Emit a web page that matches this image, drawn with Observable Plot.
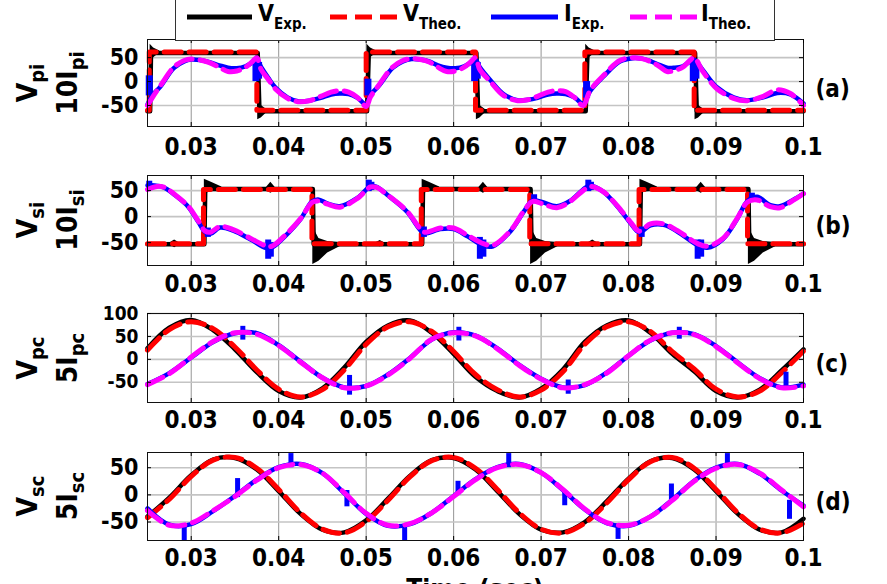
<!DOCTYPE html>
<html><head><meta charset="utf-8">
<script src="https://cdn.jsdelivr.net/npm/d3@7"></script>
<script src="https://cdn.jsdelivr.net/npm/@observablehq/plot@0.6"></script>
<style>
body{margin:0;background:#fff;}
#root{position:relative;width:887px;height:584px;overflow:hidden;background:#fff;
 font-family:"DejaVu Sans Condensed","DejaVu Sans",sans-serif;font-weight:bold;font-stretch:condensed;}
.ylab{position:absolute;transform:translate(-50%,-50%) rotate(-90deg);white-space:nowrap;text-align:center;
 font-size:28px;line-height:38px;color:#000;}
.ylab .sub{font-size:20px;position:relative;top:0.35em;}
.xlab{position:absolute;left:475px;top:574px;transform:translateX(-50%);font-size:26px;line-height:30px;white-space:nowrap;}
</style></head><body><div id="root"></div>
<script>
// ---------- shared axis data ----------
const xTicks = [0.03,0.04,0.05,0.06,0.07,0.08,0.09,0.1];
const xTickLabels = ["0.03","0.04","0.05","0.06","0.07","0.08","0.09","0.1"];
const yTicks3 = [-50,0,50];
const yTickLabels3 = ["-50","0","50"];
const yTicksC = [-50,0,50,100];
const yTickLabelsC = ["-50","0","50","100"];
const panelLabels = ["(a)","(b)","(c)","(d)"];
const legendNames = [["V","Exp."],["V","Theo."],["I","Exp."],["I","Theo."]];
const yNames = [["V","pi","10I","pi"],["V","si","10I","si"],["V","pc","5I","pc"],["V","sc","5I","sc"]];

// ---------- panel (a) ----------
const aVTheoT = [0.025,0.0252,0.0252,0.0375,0.0375,0.05,0.05,0.0625,0.0625,0.075,0.075,0.0875,0.0875,0.1];
const aVTheoV = [-60,-60,62,62,-60,-60,62,62,-60,-60,62,62,-60,-60];
const aVExpT = [0.025,0.0253,0.0254,0.0376,0.0378,0.0501,0.0503,0.0626,0.0628,0.0751,0.0753,0.0876,0.0878,0.1];
const aVExpV = [-62,-62,60,60,-62,-62,60,60,-62,-62,60,60,-62,-62];
const aRingId = [1,1,1,2,2,2,3,3,3,4,4,4,5,5,5,6,6,6];
const aRingT  = [0.0253,0.0257,0.0264, 0.0376,0.038,0.0386, 0.0501,0.0505,0.0512, 0.0626,0.063,0.0636, 0.0751,0.0755,0.0762, 0.0876,0.088,0.0886];
const aRingLo = [20,50,60, -80,-76,-66, 20,50,60, -80,-76,-66, 20,50,60, -80,-76,-66];
const aRingHi = [78,70,64, -20,-50,-58, 78,70,64, -20,-50,-58, 78,70,64, -20,-50,-58];
const aIT = [0.025,0.0255,0.0265,0.028,0.0292,0.03,0.031,0.032,0.0332,0.0342,0.0352,0.0362,0.037,0.0375,0.038,0.0388,0.0396,0.041,0.0422,0.0435,0.0448,0.046,0.047,0.048,0.049,0.05,
 0.0505,0.0515,0.053,0.0542,0.0552,0.0562,0.0572,0.0582,0.0592,0.0602,0.0612,0.062,0.0625,0.063,0.0642,0.0657,0.0673,0.0685,0.0696,0.0708,0.0718,0.0728,0.0738,0.0748,
 0.0756,0.0771,0.079,0.0805,0.0815,0.0825,0.0835,0.0844,0.0852,0.0862,0.087,0.0875,0.0885,0.0901,0.092,0.0935,0.0954,0.097,0.0985,0.1];
const aITheo = [-50,-35,-8,30,44,47,45,40,30,21,22,30,42,50,25,5,-15,-35,-42,-40,-31,-22,-19,-22,-33,-52,
 -32,-6,30,44,48,46,41,30,21,22,30,42,50,25,0,-29,-40,-38,-31,-22,-19,-21,-33,-50,
 -19,12,44,50,48,42,32,21,23,30,44,50,21,-15,-35,-40,-31,-17,-25,-50];
const aIExp = [-48,-30,-10,28,42,46,45,41,34,29,28,32,40,46,30,8,-12,-33,-41,-40,-34,-27,-25,-26,-34,-48,
 -28,-8,28,42,47,46,42,34,29,28,32,40,46,30,3,-26,-39,-38,-34,-27,-25,-26,-33,-46,
 -20,10,42,49,48,43,35,29,29,32,42,46,24,-12,-33,-39,-33,-24,-27,-46];
const aSpikeT  = [0.0252,0.0374,0.0377,0.0502,0.0624,0.0627,0.0752,0.0874,0.0877];
const aSpikeLo = [-30,0,5,-30,0,5,-35,0,5];
const aSpikeHi = [12,45,40,5,45,40,0,45,40];

// ---------- panel (b) ----------
const bVTheoT = [0.025,0.0314,0.0314,0.0438,0.0438,0.0563,0.0563,0.0687,0.0687,0.0812,0.0812,0.0936,0.0936,0.1];
const bVTheoV = [-52,-52,52,52,-52,-52,52,52,-52,-52,52,52,-52,-52];
const bVExpT = [0.025,0.0315,0.0316,0.0439,0.044,0.0564,0.0565,0.0688,0.0689,0.0813,0.0814,0.0937,0.0938,0.1];
const bVExpV = [-53,-53,53,53,-53,-53,53,53,-53,-53,53,53,-53,-53];
const bRingId = [1,1,1, 2,2,2,2, 3,3,3, 4,4,4,4, 5,5,5, 6,6,6,6, 7,7,7, 8,8,8, 9,9,9, 10,10,10, 11,11,11, 12,12,12];
const bRingT  = [0.0315,0.0323,0.0335, 0.0439,0.0446,0.0456,0.047, 0.0564,0.0572,0.0584, 0.0688,0.0695,0.0705,0.0719,
 0.0813,0.0821,0.0833, 0.0937,0.0944,0.0954,0.0968,
 0.0274,0.0281,0.0288, 0.0384,0.0391,0.0398, 0.0509,0.0516,0.0523, 0.0627,0.0634,0.0641, 0.0752,0.0759,0.0766, 0.0876,0.0883,0.089];
const bRingLo = [44,48,50, -92,-86,-70,-58, 44,48,50, -92,-86,-70,-58, 44,48,50, -92,-86,-70,-58,
 -52,-60,-52, 52,45,52, -52,-58,-52, 52,45,52, -52,-60,-52, 52,45,52];
const bRingHi = [72,66,57, -20,-42,-48,-50, 72,66,57, -20,-42,-48,-50, 72,66,57, -20,-42,-48,-50,
 -52,-45,-52, 52,66,52, -52,-46,-52, 52,66,52, -52,-45,-52, 52,66,52];
const bIT = [0.025,0.0258,0.0265,0.0272,0.028,0.0296,0.0308,0.0316,0.0322,0.0333,0.0348,0.0368,0.0385,0.0392,0.0406,0.0425,0.0438,0.0445,0.0456,0.047,
 0.049,0.0505,0.0512,0.0524,0.0547,0.056,0.0566,0.0585,0.06,0.0616,0.0634,0.0645,0.0665,0.068,0.069,0.0701,0.0718,0.0733,0.0748,0.0756,
 0.0771,0.0787,0.0802,0.0812,0.0825,0.084,0.0856,0.0879,0.089,0.0908,0.0924,0.0936,0.0947,0.0962,0.0973,0.0988,0.1];
const bITheo = [52,57,58,54,44,21,-8,-28,-30,-19,-25,-42,-56,-57,-38,-4,27,30,24,18,
 35,57,56,42,10,-20,-30,-22,-22,-36,-52,-55,-27,10,29,25,17,29,50,58,
 48,21,-10,-28,-14,-14,-27,-52,-57,-42,-4,28,32,19,17,31,44];
const bIExp = [60,60,58,53,43,20,-10,-30,-33,-21,-27,-44,-60,-60,-40,-5,29,33,25,20,
 36,58,57,42,9,-22,-32,-24,-24,-38,-56,-57,-28,9,31,28,20,30,52,60,
 48,20,-12,-30,-17,-16,-29,-55,-60,-43,-5,30,38,22,20,32,44];
const bSpikeT  = [0.0252,0.0319,0.0388,0.0391,0.0503,0.0506,0.0566,0.063,0.0634,0.0692,0.0754,0.0757,0.0815,0.0879,0.0883,0.0941];
const bSpikeLo = [50,-40,-82,-78,48,50,-40,-82,-78,28,48,50,-40,-82,-78,30];
const bSpikeHi = [68,-22,-45,-50,70,66,-20,-40,-45,42,70,66,-20,-45,-45,45];

// ---------- panels (c) and (d): shared sample times ----------
const sT = [0.025,0.0275,0.03,0.0325,0.035,0.0375,0.04,0.0425,0.045,0.0475,0.05,0.0525,0.055,0.0575,0.06,0.0625,
 0.065,0.0675,0.07,0.0725,0.075,0.0775,0.08,0.0825,0.085,0.0875,0.09,0.0925,0.095,0.0975,0.1];
const cVTheo = [20,65,82,67,27,-23,-65,-82,-66,-23,33,71,82,61,17,-33,-66,-82,-67,-27,33,71,82,61,17,-21,-65,-82,-69,-29,18];
const cVExp  = [24,69,86,64,22,-28,-69,-83,-63,-18,38,74,85,58,12,-38,-69,-83,-64,-22,38,74,85,58,12,-26,-69,-83,-66,-24,22];
const cITheo = [-55,-31,5,39,58,55,30,-6,-40,-62,-58,-34,2,44,58,51,23,-13,-43,-62,-55,-30,8,42,58,54,28,-8,-42,-62,-58];
const cIExp  = [-54,-30,4,38,57,57,31,-5,-40,-61,-58,-33,3,43,59,52,24,-12,-42,-61,-56,-29,8,41,58,55,29,-7,-41,-61,-55];
const cSpikeT  = [0.0359,0.0481,0.0606,0.0731,0.0858,0.098];
const cSpikeLo = [42,-78,40,-76,44,-62];
const cSpikeHi = [72,-35,70,-45,70,-28];

const dVTheo = [-42,-8,34,64,69,49,10,-33,-63,-70,-49,-10,33,63,69,49,10,-33,-63,-70,-52,-15,28,61,69,49,10,-33,-63,-70,-52];
const dVExp  = [-40,-5,36,65,68,47,7,-35,-64,-69,-47,-7,35,64,68,47,7,-35,-64,-69,-50,-12,30,62,68,47,7,-35,-64,-69,-44];
const dITheo = [-29,-56,-52,-29,-3,27,50,56,40,4,-34,-56,-53,-33,-3,28,50,56,41,10,-26,-51,-56,-40,-10,25,49,56,40,9,-22];
const dIExp  = [-25,-55,-54,-30,-2,28,51,57,40,3,-35,-57,-54,-33,-2,29,51,57,41,9,-27,-52,-57,-40,-9,26,50,57,39,8,-20];
const dSpikeT  = [0.0292,0.0353,0.0414,0.0478,0.0544,0.0605,0.0663,0.0727,0.0788,0.0849,0.0913,0.0984];
const dSpikeLo = [-85,-5,50,-22,-85,0,50,-20,-82,-10,50,-45];
const dSpikeHi = [-55,30,76,8,-55,25,76,5,-55,20,76,-10];

// ---------- helpers ----------
const FONT = '"DejaVu Sans Condensed","DejaVu Sans",sans-serif';
const BLACK="#000000", RED="#ff0000", BLUE="#0000ff", MAG="#ff00ff";
const DASH = "17,8";
const zipXY = (T, V) => T.map((t,i)=>({t, v:V[i]}));
const root = document.getElementById("root");

function lineMarks({vTheo, vExp, iTheo, iExp, ring, spikes, spikeW, smoothV}) {
  const cv = smoothV ? "catmull-rom" : "linear";
  const m = [];
  m.push(Plot.line(vExp, {x:"t", y:"v", stroke:BLACK, strokeWidth:4.5, curve: cv}));
  if (ring) m.push(Plot.areaY(ring, {x:"t", y1:"lo", y2:"hi", z:"id", fill:BLACK, curve:"linear"}));
  m.push(Plot.line(vTheo, {x:"t", y:"v", stroke:RED, strokeWidth:5, strokeDasharray:DASH, curve: cv}));
  m.push(Plot.line(iExp, {x:"t", y:"v", stroke:BLUE, strokeWidth:4.5, curve:"catmull-rom"}));
  if (spikes) m.push(Plot.ruleX(spikes, {x:"t", y1:"lo", y2:"hi", stroke:BLUE, strokeWidth:spikeW}));
  m.push(Plot.line(iTheo, {x:"t", y:"v", stroke:MAG, strokeWidth:5, strokeDasharray:DASH, curve:"catmull-rom"}));
  return m;
}

function panel({top, ph, yDomain, yTicks, yTickLabels, yFont, label, labelDy, data}) {
  const mt = 20, mb = 40, pw = 656;
  const svg = Plot.plot({
    width: 887, height: ph + mt + mb,
    marginLeft: 147, marginRight: 84, marginTop: mt, marginBottom: mb,
    x: {domain: [0.025, 0.1], axis: null},
    y: {domain: yDomain, axis: null},
    style: {fontFamily: FONT, fontWeight: "bold", fontSize: "24px", background: "transparent", overflow: "visible", color: "#000"},
    marks: [
      Plot.ruleX(xTicks, {x: d => d, stroke: "#7a7a7a", strokeWidth: 0.8}),
      Plot.ruleY(yTicks, {y: d => d, stroke: "#c4c4c4", strokeWidth: 1.6}),
      ...lineMarks(data),
      Plot.frame({stroke: "#111", strokeWidth: 1}),
      Plot.tickX(xTicks, {x: d => d, insetTop: ph - 4, stroke: "#000"}),
      Plot.tickX(xTicks, {x: d => d, insetBottom: ph - 4, stroke: "#000"}),
      Plot.tickY(yTicks, {y: d => d, insetRight: pw - 4, stroke: "#000"}),
      Plot.tickY(yTicks, {y: d => d, insetLeft: pw - 4, stroke: "#000"}),
      Plot.text(xTicks, {x: d => d, text: (d, i) => xTickLabels[i], frameAnchor: "bottom", dy: labelDy, lineAnchor: "middle", fontSize: 24, fontWeight: "bold"}),
      Plot.text(yTicks, {y: d => d, text: (d, i) => yTickLabels[i], frameAnchor: "left", dx: -9, textAnchor: "end", lineAnchor: "middle", fontSize: yFont, fontWeight: "bold"}),
      Plot.text([label], {text: d => d, frameAnchor: "right", dx: 12, dy: 6, textAnchor: "start", lineAnchor: "middle", fontSize: 24, fontWeight: "bold"})
    ]
  });
  svg.style.position = "absolute";
  svg.style.left = "0px";
  svg.style.top = (top - mt) + "px";
  root.appendChild(svg);
}

function ringRows(id, T, lo, hi) { return T.map((t,i)=>({id:id[i], t, lo:lo[i], hi:hi[i]})); }
function spikeRows(T, lo, hi) { return T.map((t,i)=>({t, lo:lo[i], hi:hi[i]})); }

const panels = [
  {top: 39, ph: 87, yDomain: [-94, 88], yTicks: yTicks3, yTickLabels: yTickLabels3, yFont: 23, label: panelLabels[0], labelDy: 21,
   data: {vTheo: zipXY(aVTheoT, aVTheoV), vExp: zipXY(aVExpT, aVExpV), iTheo: zipXY(aIT, aITheo), iExp: zipXY(aIT, aIExp),
          ring: ringRows(aRingId, aRingT, aRingLo, aRingHi), spikes: spikeRows(aSpikeT, aSpikeLo, aSpikeHi), spikeW: 7}},
  {top: 175, ph: 90, yDomain: [-94, 79], yTicks: yTicks3, yTickLabels: yTickLabels3, yFont: 23, label: panelLabels[1], labelDy: 19,
   data: {vTheo: zipXY(bVTheoT, bVTheoV), vExp: zipXY(bVExpT, bVExpV), iTheo: zipXY(bIT, bITheo), iExp: zipXY(bIT, bIExp),
          ring: ringRows(bRingId, bRingT, bRingLo, bRingHi), spikes: spikeRows(bSpikeT, bSpikeLo, bSpikeHi), spikeW: 6}},
  {top: 313, ph: 89, yDomain: [-94, 100], yTicks: yTicksC, yTickLabels: yTickLabelsC, yFont: 19, label: panelLabels[2], labelDy: 18,
   data: {vTheo: zipXY(sT, cVTheo), vExp: zipXY(sT, cVExp), iTheo: zipXY(sT, cITheo), iExp: zipXY(sT, cIExp),
          spikes: spikeRows(cSpikeT, cSpikeLo, cSpikeHi), spikeW: 5, smoothV: true}},
  {top: 452, ph: 88, yDomain: [-84, 78], yTicks: yTicks3, yTickLabels: yTickLabels3, yFont: 23, label: panelLabels[3], labelDy: 18,
   data: {vTheo: zipXY(sT, dVTheo), vExp: zipXY(sT, dVExp), iTheo: zipXY(sT, dITheo), iExp: zipXY(sT, dIExp),
          spikes: spikeRows(dSpikeT, dSpikeLo, dSpikeHi), spikeW: 5, smoothV: true}}
];
panels.forEach(panel);

// y-axis names (two rotated lines per panel)
panels.forEach((p, k) => {
  const n = yNames[k];
  const div = document.createElement("div");
  div.className = "ylab";
  div.style.left = "49px";
  div.style.top = (p.top + p.ph / 2) + "px";
  div.innerHTML = `<div>${n[0]}<span class="sub">${n[1]}</span></div><div>${n[2]}<span class="sub">${n[3]}</span></div>`;
  root.appendChild(div);
});

// x-axis title (cut at the bottom edge as in the original)
const xl = document.createElement("div");
xl.className = "xlab";
xl.textContent = "Time (sec)";
root.appendChild(xl);

// legend
const ns = "http://www.w3.org/2000/svg";
const lg = document.createElementNS(ns, "svg");
lg.setAttribute("width", 887); lg.setAttribute("height", 46);
lg.style.position = "absolute"; lg.style.left = "0px"; lg.style.top = "0px";
lg.style.fontFamily = FONT; lg.style.fontWeight = "bold";
const box = document.createElementNS(ns, "rect");
box.setAttribute("x", 175.5); box.setAttribute("y", -5); box.setAttribute("width", 599); box.setAttribute("height", 45.5);
box.setAttribute("fill", "#fff"); box.setAttribute("stroke", "#333"); box.setAttribute("stroke-width", 1);
lg.appendChild(box);
const legendStyle = [
  {x1: 187, x2: 252, color: BLACK, dash: null, tx: 258},
  {x1: 330, x2: 398, color: RED, dash: DASH, tx: 403},
  {x1: 491, x2: 558, color: BLUE, dash: null, tx: 564},
  {x1: 630, x2: 697, color: MAG, dash: DASH, tx: 701}
];
legendStyle.forEach((s, i) => {
  const ln = document.createElementNS(ns, "line");
  ln.setAttribute("x1", s.x1); ln.setAttribute("x2", s.x2); ln.setAttribute("y1", 17); ln.setAttribute("y2", 17);
  ln.setAttribute("stroke", s.color); ln.setAttribute("stroke-width", 5);
  if (s.dash) ln.setAttribute("stroke-dasharray", s.dash);
  lg.appendChild(ln);
  const tx = document.createElementNS(ns, "text");
  tx.setAttribute("x", s.tx); tx.setAttribute("y", 21); tx.setAttribute("font-size", 23);
  const t1 = document.createElementNS(ns, "tspan"); t1.textContent = legendNames[i][0];
  const t2 = document.createElementNS(ns, "tspan"); t2.textContent = legendNames[i][1];
  t2.setAttribute("font-size", 15); t2.setAttribute("dy", 8);
  tx.appendChild(t1); tx.appendChild(t2);
  lg.appendChild(tx);
});
root.appendChild(lg);
</script></body></html>
